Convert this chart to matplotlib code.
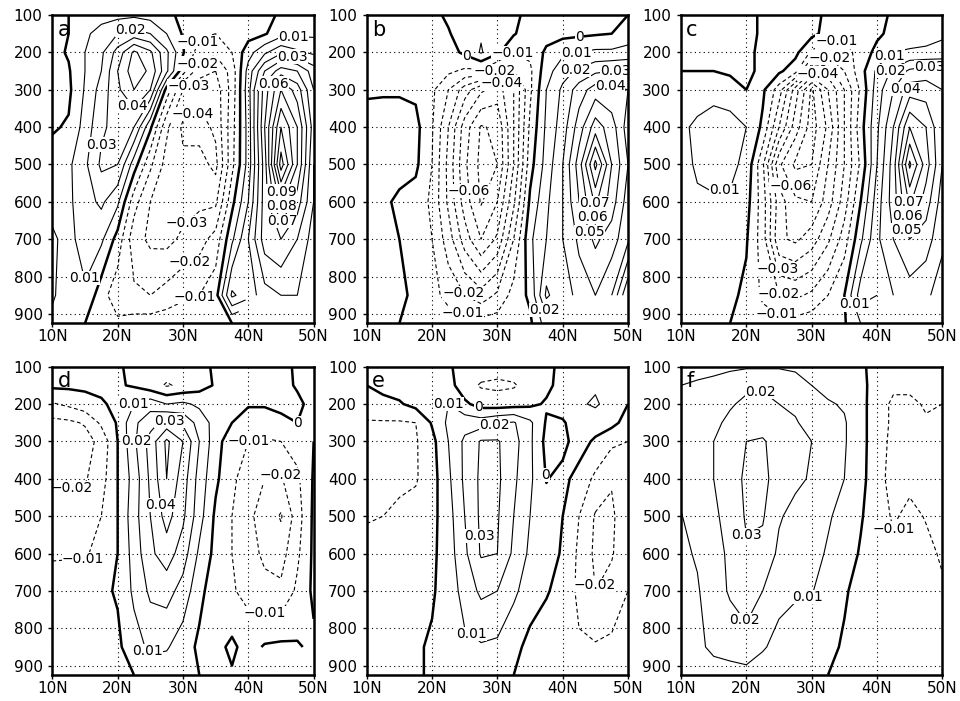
import numpy as np
import matplotlib.pyplot as plt

nan = np.nan

# grid of the fields
lats = [10, 12.5, 15, 17.5, 20, 22.5, 25, 27.5, 30, 32.5, 35, 37.5, 40, 42.5, 45, 47.5, 50]
levs = [100, 150, 200, 250, 300, 400, 500, 600, 700, 850, 925]

# panel values, rows = levs (top to bottom), cols = lats
a_data = [
    [-.004, .000, .004, .006, .007, .008, .006, .003, -.003, -.005, -.006, -.006, -.006, -.004, .002, .005, .006],
    [-.004, .000, .008, .014, .020, .024, .020, .010, -.001, -.008, -.010, -.008, -.004, -.001, .006, .008, .008],
    [-.003, .001, .010, .018, .034, .052, .042, .022, .001, -.015, -.018, -.010, .006, .018, .028, .022, .018],
    [-.002, -.001, .010, .020, .040, .056, .048, .022, -.006, -.026, -.030, -.016, .014, .040, .055, .050, .035],
    [-.002, -.002, .011, .024, .038, .050, .040, -.004, -.030, -.036, -.036, -.016, .016, .055, .080, .065, .040],
    [-.001, .001, .014, .028, .034, .030, .002, -.028, -.042, -.044, -.038, -.014, .014, .060, .100, .080, .045],
    [.004, .008, .018, .032, .030, .005, -.018, -.034, -.038, -.036, -.043, -.013, .014, .055, .115, .080, .040],
    [.008, .008, .016, .022, .012, -.016, -.030, -.034, -.034, -.032, -.032, -.003, .020, .055, .083, .065, .040],
    [.011, .008, .013, .012, -.004, -.026, -.032, -.033, -.028, -.024, -.016, .008, .030, .055, .060, .050, .035],
    [.011, .006, .009, -.006, -.016, -.018, -.020, -.016, -.012, -.010, -.004, .032, .024, .036, .040, .040, .032],
    [.008, .005, .000, -.008, -.008, -.006, -.005, -.004, -.003, -.002, -.003, .000, nan, nan, nan, nan, nan],
]

b_data = [
    [-.004, -.004, -.004, -.004, -.003, .002, .006, .008, .007, .003, -.004, -.006, -.006, -.005, -.004, -.003, .000],
    [-.004, -.004, -.004, -.004, -.004, -.001, .006, .009, .008, .001, -.006, -.004, -.003, -.002, -.001, .000, .004],
    [-.004, -.004, -.004, -.004, -.005, -.004, .002, .011, .002, -.010, -.008, .002, .008, .010, .012, .012, .014],
    [-.004, -.003, -.003, -.004, -.006, -.008, -.012, -.012, -.022, -.020, -.012, .006, .016, .022, .028, .030, .030],
    [-.001, -.001, -.001, -.002, -.008, -.020, -.035, -.048, -.055, -.040, -.012, .010, .022, .035, .045, .042, .040],
    [.003, .004, .004, .003, -.009, -.030, -.055, -.071, -.068, -.040, -.008, .012, .025, .045, .065, .055, .035],
    [.004, .005, .004, .002, -.010, -.033, -.058, -.073, -.070, -.040, -.004, .014, .030, .055, .093, .060, .040],
    [.004, .002, -.002, -.004, -.012, -.032, -.055, -.071, -.060, -.032, .002, .018, .030, .050, .072, .055, .035],
    [.004, .002, .000, -.003, -.010, -.025, -.045, -.060, -.048, -.020, .008, .020, .030, .042, .052, .045, .032],
    [.003, .003, .002, -.002, -.006, -.014, -.020, -.026, -.018, -.006, .002, .032, .022, .035, .040, .030, .000],
    [.002, .002, .000, -.001, -.003, -.004, -.005, -.006, -.005, -.003, -.002, .015, nan, nan, nan, nan, nan],
]

c_data = [
    [-.004, -.004, -.004, -.003, -.002, .001, .004, .005, .003, -.002, -.004, -.004, -.002, .001, .004, .006, .008],
    [-.004, -.004, -.004, -.003, -.002, .001, .005, .005, .003, -.004, -.008, -.006, -.002, .003, .006, .008, .009],
    [-.003, -.003, -.003, -.003, -.002, .002, .004, .003, -.012, -.016, -.014, -.006, .003, .010, .011, .011, .012],
    [.000, .000, .000, -.002, -.003, .003, .002, -.006, -.040, -.035, -.020, -.004, .012, .022, .032, .035, .035],
    [.002, .005, .007, .006, .000, .002, -.015, -.045, -.072, -.050, -.030, -.008, .015, .030, .045, .045, .040],
    [.008, .012, .014, .013, .010, -.002, -.030, -.055, -.075, -.058, -.030, -.004, .018, .040, .070, .060, .040],
    [.005, .012, .013, .012, .008, -.018, -.058, -.072, -.070, -.050, -.030, -.008, .020, .045, .092, .065, .040],
    [.004, .008, .009, .009, .004, -.015, -.045, -.058, -.060, -.045, -.025, .000, .025, .045, .072, .055, .035],
    [.002, .004, .005, .004, .001, -.015, -.048, -.052, -.045, -.032, -.015, .008, .028, .040, .050, .045, .032],
    [.001, .002, .002, .002, -.002, -.012, -.020, -.022, -.018, -.010, .000, .025, .020, .030, .035, .032, .025],
    [.001, .001, .001, .000, -.003, -.005, -.006, -.006, -.004, -.002, -.001, .010, nan, nan, nan, nan, nan],
]

d_data = [
    [.003, .003, .003, .002, .001, -.002, -.004, -.005, -.004, -.002, .001, .003, .003, .003, .002, -.001, -.002],
    [.002, .002, .002, .002, .001, -.001, -.006, -.011, -.008, -.004, .001, .003, .004, .004, .003, -.001, -.002],
    [-.011, -.008, -.004, -.001, .002, .010, .016, .010, .012, .008, .004, .003, .001, .001, .002, .002, -.003],
    [-.023, -.022, -.019, -.008, .001, .018, .026, .034, .028, .016, .006, .000, -.005, -.005, -.002, .000, -.003],
    [-.026, -.025, -.024, -.017, .000, .018, .034, .052, .040, .020, .004, -.006, -.010, -.011, -.010, -.006, .000],
    [-.022, -.022, -.021, -.014, .000, .014, .032, .050, .035, .016, .002, -.008, -.015, -.020, -.021, -.012, .001],
    [-.015, -.015, -.013, -.010, .000, .016, .030, .044, .032, .014, -.002, -.010, -.018, -.024, -.031, -.015, .002],
    [-.011, -.011, -.011, -.007, .000, .014, .028, .035, .025, .008, -.003, -.010, -.016, -.022, -.024, -.012, .002],
    [-.006, -.005, -.004, -.002, .001, .012, .022, .024, .016, .003, -.006, -.009, -.013, -.017, -.018, -.008, .002],
    [-.003, -.002, -.002, -.001, -.002, .006, .012, .011, .005, -.002, -.003, .002, -.004, .001, .002, .001, -.002],
    [-.002, -.002, -.002, -.001, -.002, .000, .004, .004, .002, .000, -.002, -.001, nan, nan, nan, nan, nan],
]

e_data = [
    [.002, .003, .004, .005, .006, .001, -.003, -.005, -.006, -.005, -.004, -.002, .002, .004, .005, .004, .004],
    [.000, .002, .004, .006, .008, .004, -.006, -.011, -.012, -.011, -.006, -.002, .003, .007, .009, .006, .004],
    [-.004, -.002, -.001, .003, .008, .010, .002, -.004, -.005, -.004, -.002, .001, .006, .009, .011, .007, .000],
    [-.011, -.011, -.011, -.010, .001, .012, .016, .015, .019, .021, .012, -.001, -.0015, .007, .006, .003, -.004],
    [-.012, -.012, -.012, -.011, -.003, .010, .022, .031, .031, .024, .012, -.003, -.003, .005, -.002, -.008, -.010],
    [-.012, -.012, -.012, -.011, -.004, .008, .022, .032, .032, .022, .012, -.0005, .003, -.004, -.012, -.019, -.014],
    [-.011, -.010, -.008, -.006, -.003, .006, .020, .032, .031, .020, .010, .004, .000, -.010, -.021, -.022, -.012],
    [-.006, -.005, -.004, -.003, -.002, .005, .018, .031, .030, .018, .008, .004, -.001, -.012, -.022, -.021, -.012],
    [-.004, -.003, -.002, -.002, -.001, .004, .014, .022, .020, .012, .005, .001, -.004, -.012, -.020, -.016, -.010],
    [-.002, -.002, -.001, -.001, .001, .003, .008, .009, .008, .003, -.003, -.006, -.008, -.009, -.009, -.008, -.006],
    [-.001, -.001, -.001, -.001, .001, .002, .004, .004, .003, .000, -.002, -.003, nan, nan, nan, nan, nan],
]

f_data = [
    [.006, .005, .006, .008, .009, .009, .009, .008, .007, .005, .003, .001, -.002, -.004, -.005, -.005, -.006],
    [.010, .012, .014, .016, .018, .018, .018, .015, .010, .007, .005, .002, -.003, -.008, -.008, -.008, -.008],
    [.011, .013, .016, .019, .022, .024, .020, .018, .014, .011, .009, .003, -.005, -.012, -.012, -.009, -.010],
    [.011, .013, .018, .022, .025, .026, .023, .021, .016, .012, .011, .003, -.005, -.012, -.013, -.011, -.012],
    [.012, .014, .020, .024, .030, .031, .026, .023, .020, .014, .011, .003, -.005, -.013, -.014, -.013, -.012],
    [.011, .014, .020, .025, .032, .033, .025, .022, .019, .012, .010, .003, -.006, -.014, -.012, -.014, -.012],
    [.0098, .012, .018, .024, .031, .031, .021, .017, .015, .011, .007, .001, -.006, -.011, -.008, -.0105, -.012],
    [.008, .011, .016, .022, .029, .027, .018, .015, .013, .009, .005, -.001, -.005, -.008, -.007, -.008, -.011],
    [.006, .009, .016, .021, .024, .020, .013, .011, .0105, .006, .001, -.003, -.004, -.006, -.006, -.007, -.009],
    [.004, .008, .012, .015, .017, .011, .007, .006, .004, .002, -.001, -.003, -.004, -.005, -.006, -.006, -.007],
    [.002, .004, .006, .005, .006, .005, .004, .003, .002, .000, -.001, -.002, nan, nan, nan, nan, nan],
]

# where the contour labels sit: (sign of the contour, lat, hPa); each spot
# is snapped to the nearest line of that sign
a_spots = [(1, 22, 140), (1, 22.4, 341), (1, 18.8, 453), (1, 14.5, 805),
           (-1, 32, 171), (-1, 32.4, 231), (-1, 30.6, 283), (-1, 30.6, 345),
           (-1, 31, 666), (-1, 31.6, 773), (-1, 31.6, 845),
           (1, 46.9, 162), (1, 46.9, 203), (1, 43.8, 283),
           (1, 45.2, 573), (1, 45.2, 612), (1, 45.2, 652)]
b_spots = [(-1, 32.3, 200), (-1, 29.5, 245), (-1, 30.5, 288), (-1, 25.8, 570),
           (-1, 24.8, 845), (-1, 24.8, 894), (0, 24.8, 229), (0, 42.6, 167),
           (1, 42.1, 203), (1, 41.9, 243), (1, 48, 255), (1, 47.2, 295),
           (1, 44.7, 604), (1, 44.7, 640), (1, 44.7, 678), (1, 37, 890)]
c_spots = [(1, 17, 595), (-1, 33.8, 172), (-1, 32.8, 212), (-1, 31, 256),
           (-1, 27.7, 550), (-1, 25.1, 778), (-1, 25.1, 845),
           (-1, 25.1, 889), (1, 41.4, 200), (1, 41.4, 240), (1, 48, 255),
           (1, 44.5, 300), (1, 44.5, 600), (1, 44.5, 638), (1, 44.5, 676),
           (1, 36.9, 872)]
d_spots = [(1, 21.5, 178), (1, 23.3, 300), (1, 28, 242), (1, 27, 470),
           (1, 24.5, 862), (0, 47.7, 260), (-1, 39.8, 287), (-1, 44.9, 381),
           (-1, 42.4, 764), (-1, 13.3, 443), (-1, 14.8, 643)]
e_spots = [(1, 19.4, 185), (0, 26.8, 220), (1, 29.6, 260), (1, 27.1, 554),
           (1, 27.1, 795), (0, 37.5, 390), (-1, 45.2, 683)]
f_spots = [(1, 22.1, 162), (1, 19.5, 586), (1, 19.5, 782), (1, 29.7, 728),
           (-1, 42.5, 554)]

panels = [('a', a_data, a_spots), ('b', b_data, b_spots), ('c', c_data, c_spots),
          ('d', d_data, d_spots), ('e', e_data, e_spots), ('f', f_data, f_spots)]

pos_levels = np.round(np.arange(1, 13) * 0.01, 2)
neg_levels = np.round(np.arange(-8, 0) * 0.01, 2)


def fmt(v):
    if abs(v) < 1e-9:
        return '0'
    return ('%.2f' % v).replace('-', '\u2212')


plt.rcParams['font.family'] = 'DejaVu Sans'
plt.rcParams['lines.dashed_pattern'] = [3.5, 2.5]

fig = plt.figure(figsize=(9.6, 7.01), dpi=100)

lefts = [0.0545, 0.382, 0.7094]
bottoms = [0.5388, 0.0371]
w, h = 0.2722, 0.4398

for i, (name, data, spots) in enumerate(panels):
    ax = fig.add_axes([lefts[i % 3], bottoms[i // 3], w, h])
    z = np.ma.masked_invalid(np.array(data, dtype=float))

    cp = ax.contour(lats, levs, z, levels=pos_levels, colors='k', linewidths=0.8)
    cn = ax.contour(lats, levs, z, levels=neg_levels, colors='k', linewidths=0.8,
                    linestyles='dashed')
    c0 = ax.contour(lats, levs, z, levels=[0], colors='k', linewidths=1.8)

    ax.set_xlim(10, 50)
    ax.set_ylim(925, 100)

    for sign, c in ((1, cp), (-1, cn), (0, c0)):
        pts = [(x, y) for s, x, y in spots if s == sign]
        if not pts:
            continue
        texts = ax.clabel(c, fmt=fmt, fontsize=10, inline=False, manual=pts)
        for t in texts:
            t.set_rotation(0)
            t.set_bbox(dict(facecolor='white', edgecolor='none', pad=0.15))
            t.set_zorder(5)

    ax.set_xticks([10, 20, 30, 40, 50])
    ax.set_xticklabels(['10N', '20N', '30N', '40N', '50N'])
    ax.set_yticks(range(100, 1000, 100))
    ax.grid(True, color='k', linestyle=(0, (1, 3)), linewidth=0.8)
    ax.tick_params(labelsize=11, length=3, width=1, direction='out')
    ax.tick_params(axis='x', pad=1)
    ax.tick_params(axis='y', pad=4)
    for sp in ax.spines.values():
        sp.set_linewidth(1.8)
        sp.set_zorder(6)
    ax.text(0.02, 0.985, name, transform=ax.transAxes, fontsize=15,
            va='top', ha='left', zorder=7)

fig.savefig('out.png', dpi=100)
